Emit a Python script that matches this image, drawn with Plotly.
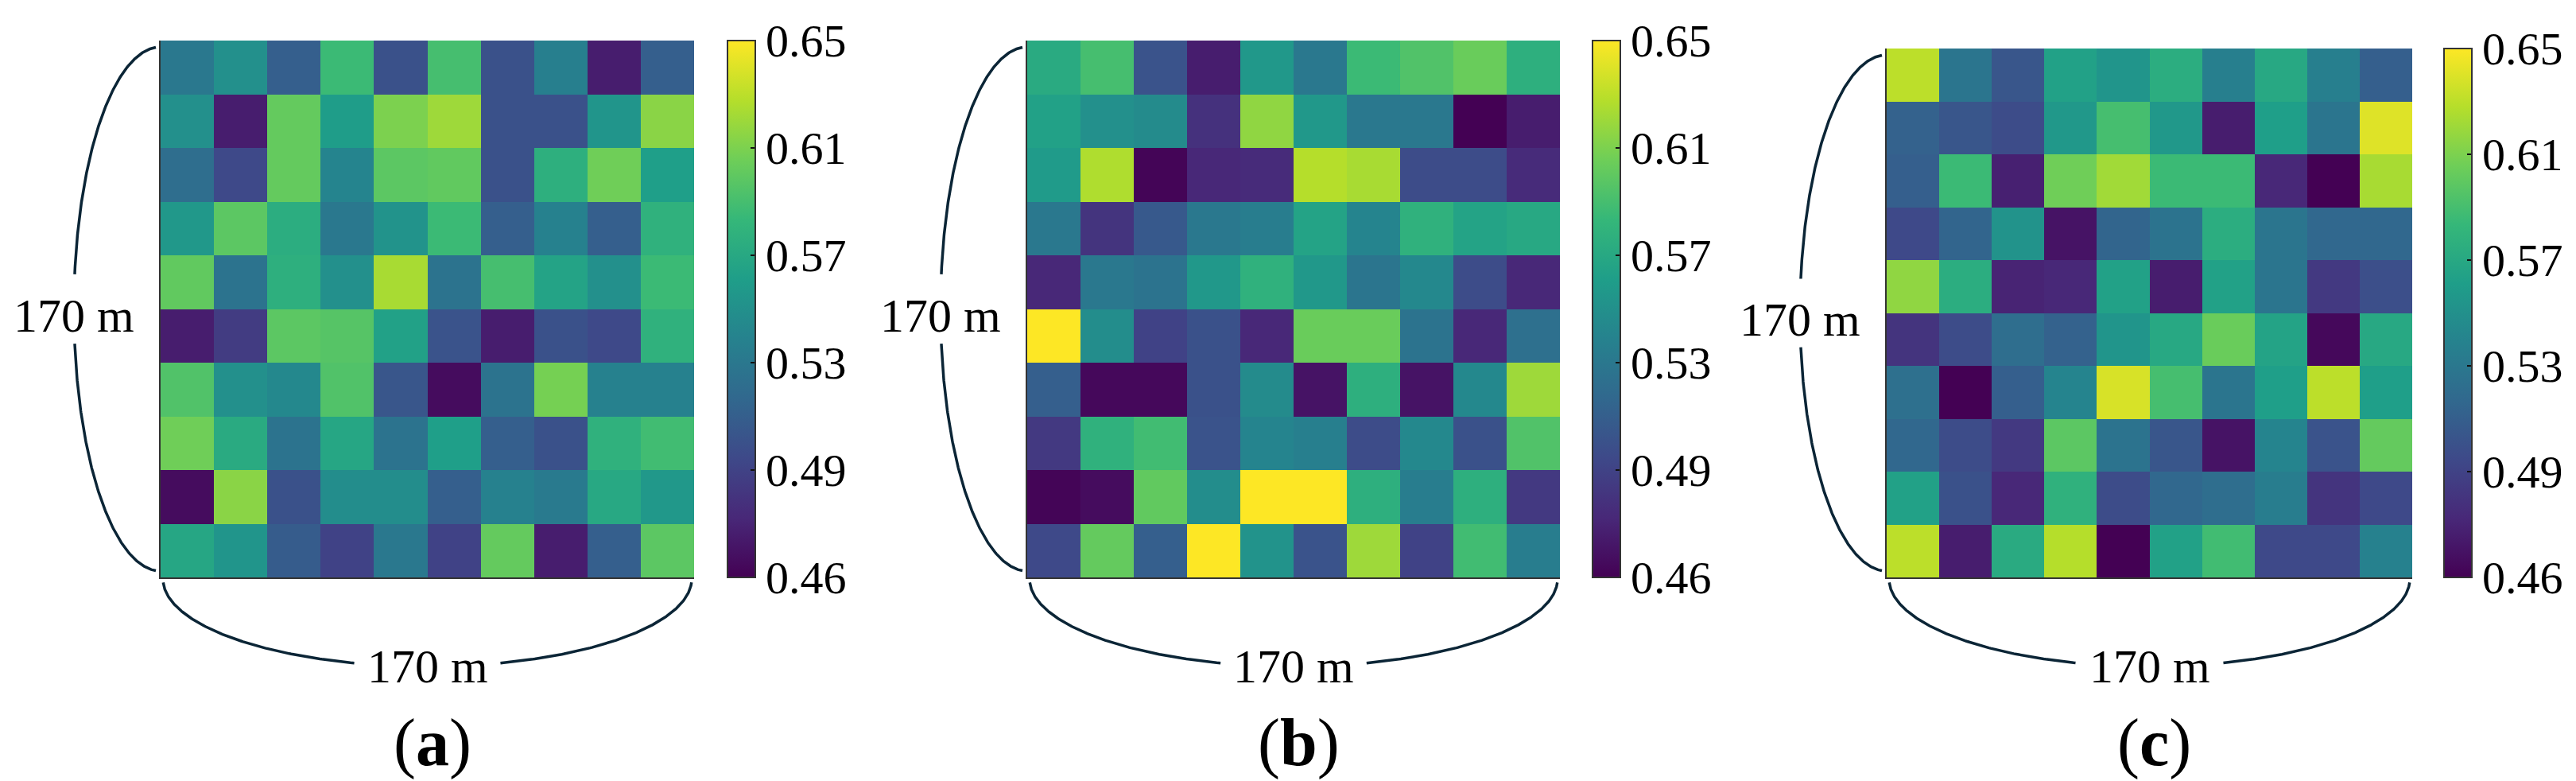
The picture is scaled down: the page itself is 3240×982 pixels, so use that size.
import numpy as np
import plotly.graph_objects as go

W, H = 3240, 982

# ---------------- data ----------------
grid_a = [
    [0.536, 0.555, 0.517, 0.589, 0.508, 0.593, 0.508, 0.542, 0.475, 0.517],
    [0.555, 0.475, 0.604, 0.565, 0.612, 0.622, 0.508, 0.508, 0.559, 0.616],
    [0.528, 0.502, 0.604, 0.546, 0.601, 0.603, 0.508, 0.580, 0.608, 0.566],
    [0.561, 0.601, 0.578, 0.536, 0.557, 0.589, 0.517, 0.544, 0.517, 0.582],
    [0.603, 0.532, 0.580, 0.555, 0.625, 0.532, 0.593, 0.570, 0.555, 0.589],
    [0.475, 0.494, 0.601, 0.599, 0.568, 0.509, 0.475, 0.508, 0.502, 0.582],
    [0.597, 0.555, 0.549, 0.597, 0.511, 0.466, 0.532, 0.610, 0.544, 0.544],
    [0.608, 0.576, 0.532, 0.572, 0.532, 0.566, 0.517, 0.508, 0.582, 0.591],
    [0.466, 0.616, 0.508, 0.553, 0.553, 0.517, 0.544, 0.538, 0.574, 0.561],
    [0.572, 0.559, 0.515, 0.498, 0.536, 0.498, 0.604, 0.475, 0.517, 0.601],
]
grid_b = [
    [0.576, 0.593, 0.509, 0.475, 0.561, 0.536, 0.589, 0.597, 0.606, 0.580],
    [0.568, 0.555, 0.551, 0.487, 0.618, 0.561, 0.536, 0.536, 0.460, 0.475],
    [0.563, 0.627, 0.462, 0.481, 0.483, 0.629, 0.625, 0.504, 0.504, 0.483],
    [0.536, 0.489, 0.513, 0.536, 0.540, 0.570, 0.546, 0.582, 0.570, 0.574],
    [0.481, 0.536, 0.532, 0.561, 0.582, 0.561, 0.534, 0.549, 0.504, 0.481],
    [0.650, 0.553, 0.498, 0.508, 0.481, 0.606, 0.606, 0.532, 0.481, 0.530],
    [0.517, 0.464, 0.464, 0.508, 0.551, 0.470, 0.580, 0.470, 0.549, 0.622],
    [0.492, 0.582, 0.591, 0.509, 0.546, 0.542, 0.504, 0.549, 0.508, 0.597],
    [0.462, 0.466, 0.603, 0.553, 0.650, 0.650, 0.580, 0.540, 0.580, 0.492],
    [0.502, 0.604, 0.517, 0.650, 0.557, 0.509, 0.622, 0.498, 0.591, 0.540],
]
grid_c = [
    [0.631, 0.534, 0.511, 0.568, 0.559, 0.578, 0.542, 0.574, 0.542, 0.517],
    [0.519, 0.511, 0.504, 0.561, 0.593, 0.561, 0.475, 0.566, 0.534, 0.641],
    [0.517, 0.589, 0.477, 0.608, 0.623, 0.589, 0.589, 0.481, 0.460, 0.625],
    [0.502, 0.521, 0.557, 0.470, 0.521, 0.532, 0.578, 0.534, 0.523, 0.523],
    [0.618, 0.578, 0.479, 0.481, 0.568, 0.475, 0.568, 0.534, 0.492, 0.506],
    [0.489, 0.504, 0.528, 0.519, 0.559, 0.574, 0.606, 0.570, 0.464, 0.574],
    [0.530, 0.460, 0.517, 0.546, 0.639, 0.593, 0.534, 0.566, 0.631, 0.566],
    [0.523, 0.504, 0.492, 0.601, 0.532, 0.511, 0.470, 0.546, 0.509, 0.604],
    [0.568, 0.508, 0.481, 0.582, 0.504, 0.523, 0.528, 0.540, 0.489, 0.502],
    [0.631, 0.475, 0.576, 0.629, 0.460, 0.568, 0.591, 0.502, 0.502, 0.544],
]
grids = [grid_a, grid_b, grid_c]
panel_names = ["a", "b", "c"]
size_label = "170 m"

z_min, z_max = 0.46, 0.65
cbar_tickvals = [0.46, 0.498, 0.536, 0.574, 0.612, 0.65]
cbar_ticktext = ["0.46", "0.49", "0.53", "0.57", "0.61", "0.65"]

# ---------------- layout geometry (pixels) ----------------
# heatmap boxes: x0, x1, y0 (top), y1 (bottom)
boxes = [(194, 865, 43, 718), (1284, 1954, 43, 718), (2365, 3026, 53, 718)]
cbar_left = [907, 1995, 3066]

FONT = "'Liberation Serif', 'Times New Roman', Times, 'DejaVu Serif', serif"
LINE_COL = "#0b2536"

fig = go.Figure()
layout_axes = {}

for i, (g, (x0, x1, y0, y1)) in enumerate(zip(grids, boxes)):
    n = i + 1
    xa = "x" if n == 1 else f"x{n}"
    ya = "y" if n == 1 else f"y{n}"
    fig.add_trace(go.Heatmap(
        z=g, x=list(range(10)), y=list(range(10)),
        xaxis=xa, yaxis=ya,
        colorscale="Viridis", zmin=z_min, zmax=z_max, zsmooth=False,
        hoverinfo="skip",
        colorbar=dict(
            x=cbar_left[i] / W, xanchor="left",
            y=1 - y0 / H, yanchor="top",
            len=(y1 - y0), lenmode="pixels",
            thickness=35, thicknessmode="pixels",
            xpad=0, ypad=0,
            outlinewidth=2, outlinecolor="#333333",
            tickvals=cbar_tickvals, ticktext=cbar_ticktext,
            ticks="inside", ticklen=7, tickwidth=2, tickcolor="#111111",
            tickfont=dict(family=FONT, size=58, color="black"),
        ),
    ))
    axx = "xaxis" if n == 1 else f"xaxis{n}"
    axy = "yaxis" if n == 1 else f"yaxis{n}"
    layout_axes[axx] = dict(
        domain=[x0 / W, x1 / W], range=[-0.5, 9.5], anchor=ya,
        showticklabels=False, ticks="", showgrid=False, zeroline=False,
        showline=True, linecolor="#333333", linewidth=2, mirror=False,
    )
    layout_axes[axy] = dict(
        domain=[1 - y1 / H, 1 - y0 / H], range=[9.5, -0.5], anchor=xa,
        showticklabels=False, ticks="", showgrid=False, zeroline=False,
        showline=True, linecolor="#333333", linewidth=2, mirror=False,
    )

# overlay pixel axes for brace decorations
layout_axes["xaxis4"] = dict(domain=[0, 1], range=[0, W], visible=False, anchor="y4")
layout_axes["yaxis4"] = dict(domain=[0, 1], range=[H, 0], visible=False, anchor="x4")

annotations = []
for i, (x0, x1, y0, y1) in enumerate(boxes):
    # left brace (half ellipse)
    cy = (y0 + y1) / 2
    ax_l, by_l = 109, (y1 - y0) / 2 - 8
    gap = 43
    th = np.linspace(-np.pi / 2 * 0.965, np.pi / 2 * 0.965, 400)
    xs = x0 - ax_l * np.cos(th)
    ys = cy + by_l * np.sin(th)
    for mask in (ys < cy - gap, ys > cy + gap):
        fig.add_trace(go.Scatter(x=xs[mask], y=ys[mask], xaxis="x4", yaxis="y4",
                                 mode="lines", line=dict(color=LINE_COL, width=3.5),
                                 hoverinfo="skip", showlegend=False))
    annotations.append(dict(x=x0 - ax_l, y=cy + 8, xref="x4", yref="y4",
                            text=size_label, showarrow=False,
                            font=dict(family=FONT, size=60, color="black"),
                            xanchor="center", yanchor="middle"))
    # bottom brace (half ellipse)
    cx = (x0 + x1) / 2
    ax_b, by_b = (x1 - x0) / 2 - 3, 110
    gapx = 91
    th = np.linspace(-np.pi / 2 * 0.975, np.pi / 2 * 0.975, 400)
    xs = cx + ax_b * np.sin(th)
    ys = y1 + 2 + by_b * np.cos(th)
    for mask in (xs < cx - gapx, xs > cx + gapx):
        fig.add_trace(go.Scatter(x=xs[mask], y=ys[mask], xaxis="x4", yaxis="y4",
                                 mode="lines", line=dict(color=LINE_COL, width=3.5),
                                 hoverinfo="skip", showlegend=False))
    annotations.append(dict(x=cx, y=y1 + by_b + 2, xref="x4", yref="y4",
                            text=size_label, showarrow=False,
                            font=dict(family=FONT, size=60, color="black"),
                            xanchor="center", yanchor="middle"))
    annotations.append(dict(x=cx + 6, y=926, xref="x4", yref="y4",
                            text=f"(<b>{panel_names[i]}</b>)", showarrow=False,
                            font=dict(family=FONT, size=84, color="black"),
                            xanchor="center", yanchor="middle"))

fig.update_layout(
    width=W, height=H,
    margin=dict(l=0, r=0, t=0, b=0),
    paper_bgcolor="white", plot_bgcolor="rgba(0,0,0,0)",
    showlegend=False,
    annotations=annotations,
    **layout_axes,
)

fig.write_html("out.html")
